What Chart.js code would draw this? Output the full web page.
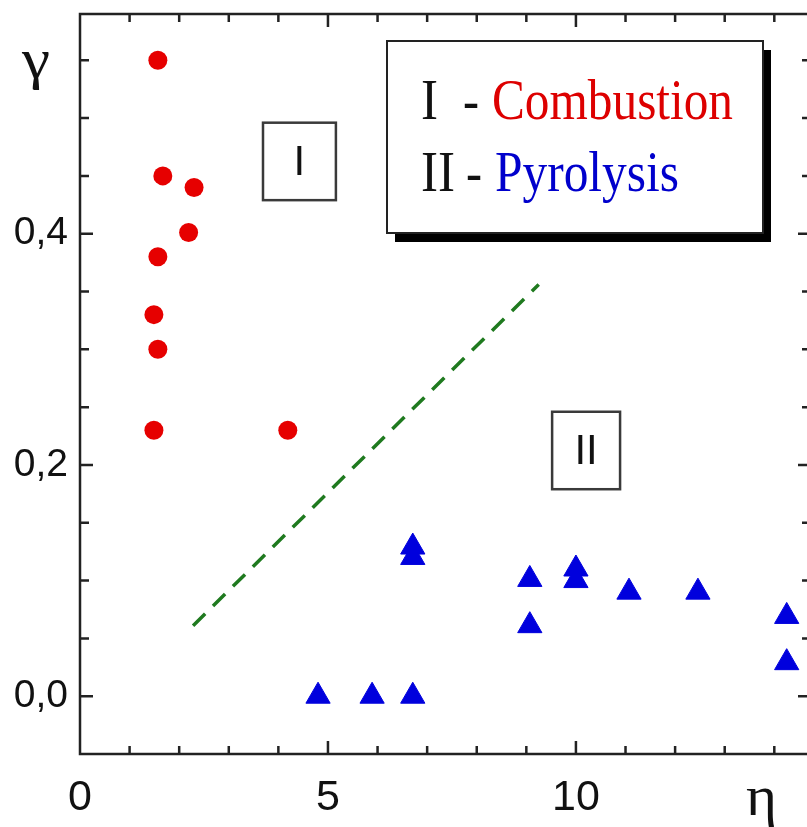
<!DOCTYPE html>
<html>
<head>
<meta charset="utf-8">
<script src="https://cdn.jsdelivr.net/npm/chart.js@4"></script>
<style>
html, body { margin: 0; padding: 0; background: #fff; overflow: hidden; }
#wrap { position: absolute; left: 0; top: 0; width: 820px; height: 827px; }
#myChart { display: block; width: 820px; height: 827px; }
</style>
</head>
<body>
<div id="wrap"><canvas id="myChart" width="820" height="827"></canvas></div>
<script>
// values
const combustionEta = [1.57, 1.67, 2.30, 2.19, 1.57, 1.49, 1.57, 1.49, 4.19];
const combustionGamma = [0.550, 0.450, 0.440, 0.401, 0.380, 0.330, 0.300, 0.230, 0.230];
const pyrolysisEta = [4.80, 5.89, 6.71, 6.71, 6.71, 9.07, 9.07, 10.0, 10.0, 11.07, 12.46, 14.25, 14.25];
const pyrolysisGamma = [0.0, 0.0, 0.0, 0.129, 0.120, 0.101, 0.061, 0.110, 0.100, 0.090, 0.090, 0.069, 0.029];
const boundaryEta = [2.28, 9.25];
const boundaryGamma = [0.061, 0.356];

const xTickLabels = [0, 5, 10];
const yTickLabels = [0, 0.2, 0.4];
const xMinorTicks = [1, 2, 3, 4, 5, 6, 7, 8, 9, 10, 11, 12, 13, 14];
const yMinorTicks = [0.05, 0.1, 0.15, 0.2, 0.25, 0.3, 0.35, 0.4, 0.45, 0.5, 0.55];
const regionNames = ['I', 'II'];

const toPoints = (xs, ys) => xs.map((x, i) => ({ x: x, y: ys[i] }));

// region boxes, in data units
const regionBoxes = [
    { x0: 3.69, x1: 5.16, y0: 0.496, y1: 0.429 },
    { x0: 9.52, x1: 10.89, y0: 0.246, y1: 0.179 }
];

function drawFitted(ctx, text, x, y, width) {
    const w = ctx.measureText(text).width;
    ctx.save();
    ctx.translate(x, y);
    ctx.scale(width / w, 1);
    ctx.fillText(text, 0, 0);
    ctx.restore();
}

const decorPlugin = {
    id: 'decor',
    afterDatasetsDraw(chart) {
        const ctx = chart.ctx;
        const xs = chart.scales.x, ys = chart.scales.y;
        ctx.save();
        // region boxes I and II
        regionBoxes.forEach((b, i) => {
            const l = xs.getPixelForValue(b.x0), r = xs.getPixelForValue(b.x1);
            const t = ys.getPixelForValue(b.y0), btm = ys.getPixelForValue(b.y1);
            ctx.strokeStyle = '#3a3a3a';
            ctx.lineWidth = 2.5;
            ctx.strokeRect(l, t, r - l, btm - t);
            ctx.fillStyle = '#111';
            ctx.font = '42px "Liberation Sans", Arial';
            ctx.textAlign = 'center';
            ctx.textBaseline = 'middle';
            ctx.fillText(regionNames[i], (l + r) / 2, (t + btm) / 2 + 2);
        });

        // legend box with shadow
        const lx = 387, ly = 41, lw = 376, lh = 192;
        ctx.fillStyle = '#000';
        ctx.fillRect(lx + 8, ly + 9, lw, lh);
        ctx.fillStyle = '#fff';
        ctx.fillRect(lx, ly, lw, lh);
        ctx.strokeStyle = '#222';
        ctx.lineWidth = 2;
        ctx.strokeRect(lx, ly, lw, lh);

        ctx.textAlign = 'left';
        ctx.textBaseline = 'alphabetic';
        ctx.font = '56px "Liberation Serif", "Times New Roman", serif';
        ctx.fillStyle = '#111';
        drawFitted(ctx, 'I', 421, 119, 17);
        drawFitted(ctx, '-', 463, 119, 16);
        drawFitted(ctx, 'II', 421, 191, 34);
        drawFitted(ctx, '-', 466, 191, 16);
        ctx.fillStyle = '#dd0000';
        drawFitted(ctx, 'Combustion', 492, 119, 241);
        ctx.fillStyle = '#0000cc';
        drawFitted(ctx, 'Pyrolysis', 495, 191, 184);
        ctx.restore();
    },
    afterDraw(chart) {
        const ctx = chart.ctx;
        const a = chart.chartArea;
        const xs = chart.scales.x, ys = chart.scales.y;
        ctx.save();
        ctx.strokeStyle = '#222';
        ctx.lineWidth = 2.5;
        ctx.strokeRect(a.left, a.top, a.right - a.left, a.bottom - a.top);
        ctx.lineWidth = 2.5;
        ctx.beginPath();
        xMinorTicks.forEach(v => {
            const px = xs.getPixelForValue(v);
            const len = xTickLabels.includes(v) ? 13 : 8;
            ctx.moveTo(px, a.bottom); ctx.lineTo(px, a.bottom - len);
            ctx.moveTo(px, a.top); ctx.lineTo(px, a.top + len);
        });
        yMinorTicks.concat([0]).forEach(v => {
            const py = ys.getPixelForValue(v);
            const len = yTickLabels.some(t => Math.abs(t - v) < 1e-9) ? 13 : 9;
            ctx.moveTo(a.left, py); ctx.lineTo(a.left + len, py);
            ctx.moveTo(a.right, py); ctx.lineTo(a.right - len, py);
        });
        ctx.stroke();

        // axis symbols
        ctx.fillStyle = '#111';
        ctx.font = '58px "Liberation Serif", "Times New Roman", serif';
        ctx.textAlign = 'left';
        ctx.textBaseline = 'alphabetic';
        drawFitted(ctx, 'γ', 22, 78, 28);
        drawFitted(ctx, 'η', 746, 815, 31);
        ctx.restore();
    }
};

const ctx = document.getElementById('myChart').getContext('2d');
const myChart = new Chart(ctx, {
    type: 'scatter',
    data: {
        datasets: [
            {
                label: 'boundary',
                data: toPoints(boundaryEta, boundaryGamma),
                showLine: true,
                borderColor: '#1f7a1f',
                borderWidth: 3.5,
                borderDash: [17, 11],
                pointRadius: 0,
                fill: false
            },
            {
                label: 'I - Combustion',
                data: toPoints(combustionEta, combustionGamma),
                pointStyle: 'circle',
                pointRadius: 9.5,
                backgroundColor: '#e60000',
                borderColor: '#e60000',
                borderWidth: 0
            },
            {
                label: 'II - Pyrolysis',
                data: toPoints(pyrolysisEta, pyrolysisGamma),
                pointStyle: 'triangle',
                pointRadius: 14,
                backgroundColor: '#0000dd',
                borderColor: '#0000dd',
                borderWidth: 1
            }
        ]
    },
    options: {
        responsive: false,
        animation: false,
        layout: { autoPadding: false, padding: { top: 14, right: 9, left: 0, bottom: 0 } },
        plugins: { legend: { display: false }, tooltip: { enabled: false } },
        scales: {
            x: {
                type: 'linear',
                min: 0,
                max: 14.74,
                afterBuildTicks: s => { s.ticks = xTickLabels.map(v => ({ value: v })); },
                afterFit: s => { s.height = 73; s.paddingLeft = 0; s.paddingRight = 0; },
                grid: { display: false, drawTicks: false },
                border: { display: false },
                ticks: {
                    font: { family: '"Liberation Sans", Arial', size: 43 },
                    color: '#111',
                    padding: 18,
                    maxRotation: 0,
                    autoSkip: false,
                    callback: v => String(v)
                }
            },
            y: {
                type: 'linear',
                min: -0.05,
                max: 0.59,
                afterBuildTicks: s => { s.ticks = yTickLabels.map(v => ({ value: v })); },
                afterFit: s => { s.width = 80; s.paddingTop = 0; s.paddingBottom = 0; },
                grid: { display: false, drawTicks: false },
                border: { display: false },
                ticks: {
                    font: { family: '"Liberation Sans", Arial', size: 39 },
                    color: '#111',
                    padding: 12,
                    autoSkip: false,
                    callback: v => v.toFixed(1).replace('.', ',')
                }
            }
        }
    },
    plugins: [decorPlugin]
});
</script>
</body>
</html>
